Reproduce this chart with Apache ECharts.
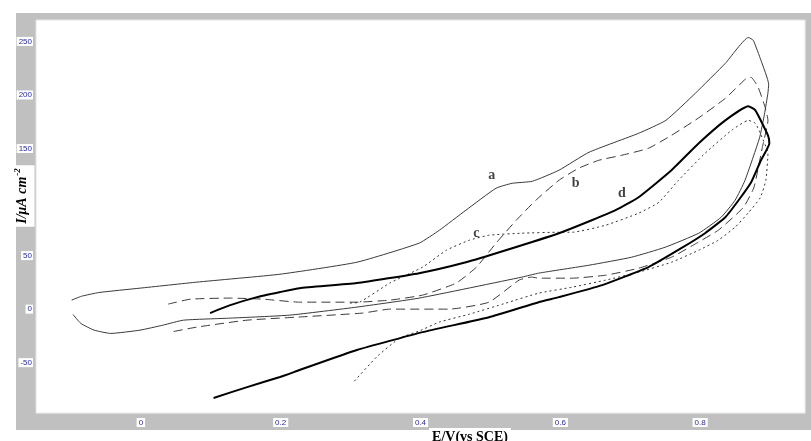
<!DOCTYPE html>
<html>
<head>
<meta charset="utf-8">
<script src="https://cdn.jsdelivr.net/npm/echarts@6/dist/echarts.min.js"></script>
<style>html,body{margin:0;padding:0;background:#fff}#c{width:811px;height:441px}</style>
</head>
<body>
<div id="c"></div>
<script>
// Curve a (thin solid): [E/V, I/uA cm-2]
const curveA = [[-0.099,8.4],[-0.085,12],[-0.06,15.5],[-0.001,19.6],[0.08,25.2],[0.199,32.6],[0.309,43.8],[0.398,61.6],[0.427,73.7],[0.465,92.4],[0.508,112.9],[0.531,117.5],[0.56,119.4],[0.598,129.7],[0.641,146.5],[0.712,164.2],[0.751,176.3],[0.793,201.5],[0.836,229.5],[0.869,253.7],[0.876,251],[0.887,232.3],[0.898,210],[0.897,202],[0.892,182],[0.885,160],[0.864,120],[0.85,101.7],[0.83,85.8],[0.798,70.9],[0.75,57.8],[0.702,48.5],[0.641,41],[0.569,33.6],[0.545,29.9],[0.398,10.3],[0.309,1.9],[0.213,-5.6],[0.128,-8.4],[0.061,-10.3],[0.032,-14.9],[-0.001,-19.6],[-0.043,-22.7],[-0.067,-19.6],[-0.086,-13.3],[-0.097,-5]];
// Curve b (dashed)
const curveB = [[0.039,4.7],[0.071,9.3],[0.128,10.3],[0.175,9.3],[0.227,6.5],[0.309,6.5],[0.356,8.4],[0.403,13.1],[0.451,24.3],[0.48,39.2],[0.508,61.6],[0.537,83],[0.565,101.7],[0.598,120.3],[0.626,131.5],[0.655,139],[0.688,143.7],[0.726,150.2],[0.759,162.3],[0.797,178.2],[0.836,196.8],[0.866,215.5],[0.873,216.4],[0.883,207.1],[0.893,188.4],[0.897,176.3],[0.889,151.1],[0.877,113.8],[0.862,95.1],[0.826,73.7],[0.795,61.6],[0.759,48.5],[0.712,38.2],[0.665,31.7],[0.617,28.9],[0.569,28.9],[0.559,29.9],[0.541,27.1],[0.498,6.5],[0.441,0],[0.356,0],[0.317,-3.7],[0.223,-7.5],[0.152,-10.3],[0.08,-16.8],[0.042,-21.5]];
// Curve c (dotted)
const curveC = [[0.299,5.6],[0.313,6.5],[0.356,24.3],[0.403,39.2],[0.437,55],[0.47,64.4],[0.498,69],[0.545,70.9],[0.598,71.8],[0.617,71.8],[0.665,78.4],[0.712,89.6],[0.741,99.8],[0.769,120.3],[0.807,145.5],[0.845,167],[0.869,176.3],[0.879,173.5],[0.886,164.2],[0.897,145.5],[0.894,120.3],[0.886,104],[0.869,90],[0.85,76.5],[0.826,64.4],[0.798,55],[0.759,43.8],[0.712,34.5],[0.665,27.1],[0.617,20.5],[0.569,14.9],[0.522,5.6],[0.47,-4.7],[0.427,-12.1],[0.398,-20.5],[0.37,-27.1],[0.337,-44.8],[0.303,-69]];
// Curve d (thick solid)
const curveD = [[0.099,-3.7],[0.128,3.7],[0.166,11.2],[0.199,15.9],[0.227,19.6],[0.309,24.3],[0.398,33.6],[0.465,43.8],[0.522,55],[0.598,70.9],[0.645,83],[0.679,92.4],[0.712,104.5],[0.759,129.7],[0.798,154.9],[0.836,176.3],[0.869,189.4],[0.879,185.6],[0.897,162.3],[0.899,155],[0.887,139],[0.873,118.5],[0.855,101.7],[0.836,85.8],[0.807,70.9],[0.773,56.9],[0.726,39.2],[0.66,22.4],[0.598,11.2],[0.569,6.5],[0.498,-7.5],[0.403,-21.5],[0.309,-38.2],[0.227,-56.9],[0.199,-63.4],[0.152,-72.8],[0.104,-83]];
// Curve labels
const labelNames = ['a','b','c','d'];
const labelPos = [[0.502,125],[0.622,117.5],[0.48,71],[0.688,108]];
// Axes
const xMin = -0.15, xMax = 0.95;
const yMin = -97, yMax = 270;
const xTitle = 'E/V(vs SCE)';

const chart = echarts.init(document.getElementById('c'));
const isStep = (v, s) => Math.abs(v / s - Math.round(v / s)) < 1e-6;
const lineSeries = (name, data, style) => ({
  name, type: 'line', data, showSymbol: false, symbol: 'none', smooth: 0.15,
  lineStyle: style, animation: false, z: 3
});
chart.setOption({
  animation: false,
  backgroundColor: '#fff',
  grid: { left: 36, top: 20, right: 6, bottom: 28, show: true, backgroundColor: '#fff', borderColor: '#e4e4e4', borderWidth: 1, z: 1 },
  xAxis: {
    type: 'value', min: xMin, max: xMax, splitNumber: 5,
    axisLine: { show: false }, axisTick: { show: false },
    splitLine: { show: true, lineStyle: { color: '#d4d4d4', width: 1 } },
    axisLabel: {
      showMinLabel: false, showMaxLabel: false,
      margin: 5, fontSize: 8, color: '#2a2aa8', fontFamily: 'Liberation Sans, Arial',
      backgroundColor: '#fff', padding: [1, 2, 0, 2],
      formatter: v => isStep(v, 0.2) ? String(+v.toFixed(1)) : ''
    }
  },
  yAxis: {
    type: 'value', min: yMin, max: yMax, splitNumber: 7,
    axisLine: { show: false }, axisTick: { show: false },
    splitLine: { show: true, lineStyle: { color: '#d4d4d4', width: 1 } },
    axisLabel: {
      showMinLabel: false, showMaxLabel: false,
      margin: 3, fontSize: 8, color: '#2a2aa8', fontFamily: 'Liberation Sans, Arial',
      backgroundColor: '#fff', padding: [1, 1, 0, 2],
      formatter: v => isStep(v, 50) ? String(Math.round(v)) : ''
    }
  },
  graphic: [
    { type: 'rect', z: -10, shape: { x: 16, y: 13, width: 795, height: 417 }, style: { fill: '#c0c0c0' } },
    { type: 'text', z: 100, x: 470, y: 437, style: { text: xTitle, font: 'bold 14px "Liberation Serif", "Times New Roman", serif', fill: '#000', align: 'center', verticalAlign: 'middle', backgroundColor: '#fff', padding: [2, 3, 2, 3] } },
    { type: 'text', z: 100, x: 22, y: 196, rotation: Math.PI / 2,
      style: {
        text: '{m|I/\u03bcA cm}{s|-2}',
        align: 'center', verticalAlign: 'middle', backgroundColor: '#fff', padding: [4, 3, 4, 3],
        rich: {
          m: { font: 'italic bold 14px "Liberation Serif", "Times New Roman", serif', fill: '#000' },
          s: { font: 'italic bold 9px "Liberation Serif", "Times New Roman", serif', fill: '#000', verticalAlign: 'top', padding: [0, 0, 8, 1] }
        }
      } }
  ],
  series: [
    lineSeries('a', curveA, { color: '#3a3a3a', width: 1 }),
    lineSeries('b', curveB, { color: '#3a3a3a', width: 1, type: [9, 5] }),
    lineSeries('c', curveC, { color: '#333', width: 1, type: [2, 3] }),
    lineSeries('d', curveD, { color: '#000', width: 2 }),
    {
      type: 'scatter', symbolSize: 0, animation: false, z: 5,
      data: labelNames.map((n, i) => ({ name: n, value: labelPos[i] })),
      label: { show: true, position: 'inside', formatter: p => p.name, fontSize: 14, fontWeight: 'bold', fontFamily: '"Liberation Serif", "Times New Roman", serif', color: '#111' }
    }
  ]
});
</script>
</body>
</html>
